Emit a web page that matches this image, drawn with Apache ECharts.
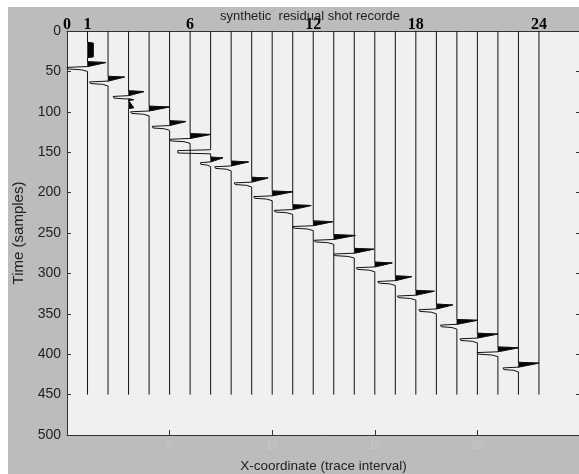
<!DOCTYPE html>
<html>
<head>
<meta charset="utf-8">
<script src="https://cdn.jsdelivr.net/npm/echarts@6/dist/echarts.min.js"></script>
<style>
  html, body { margin: 0; padding: 0; background: #ffffff; }
  #chart { position: absolute; left: 8px; top: 7px; width: 571px; height: 467px; }
</style>
</head>
<body>
<div id="chart"></div>
<script>
// Trace numbers along the receiver line
const traceNo = [1, 2, 3, 4, 5, 6, 7, 8, 9, 10, 11, 12, 13, 14, 15, 16, 17, 18, 19, 20, 21, 22, 23];
// Arrival time (samples) of the reflection event on each trace; null = no event on record
const pickTime = [38, 56, 74, 93, 111, 127, 156, 161, 181, 198, 215, 235, 252, 269, 286, 303, 321, 338, 357, 374, 391, 410, null];
// Peak (positive, filled) and trough (negative) amplitude, in trace spacings
const peakAmp = [0.9, 0.8, 0.75, 1.0, 0.8, 1.0, 0.6, 0.85, 0.8, 1.0, 0.9, 0.95, 1.05, 0.95, 0.85, 0.8, 0.9, 0.8, 1.0, 1.0, 1.0, 1.0, 0];
const troughAmp = [1.0, 0.9, 0.75, 0.9, 0.85, 1.0, 0.5, 0.8, 0.85, 0.9, 0.9, 1.0, 0.95, 1.0, 0.9, 0.85, 0.9, 0.85, 0.8, 0.85, 1.0, 0.75, 0];
// Normalised wavelet: lag (samples after arrival) and amplitude
const waveLag = [0, 1, 6, 7, 9, 10, 12];
const waveShape = [0, 1, 0, -1, -0.95, -0.3, 0];
// Residual energy left on a few traces: trace, start/end sample, amplitude
const residTrace = [1, 3, 7];
const residFrom = [15, 85, 148];
const residTo = [32, 95, 151];
const residAmp = [0.28, 0.25, -1.6];
// Record length (samples)
const recordEnd = 450;
// Time axis and trace axis ticks
const timeTicks = [0, 50, 100, 150, 200, 250, 300, 350, 400, 450, 500];
const bottomTicks = [5, 10, 15, 20];
// Trace annotations above the record
const topLabelAt = [0, 1, 6, 12, 17, 23];
const topLabelText = ['0', '1', '6', '12', '18', '24'];

function traceSamples(i) {
  const ev = [];
  if (pickTime[i] !== null) {
    for (let k = 0; k < waveLag.length; k++) {
      const s = waveShape[k];
      const a = s > 0 ? s * peakAmp[i] : s * troughAmp[i];
      ev.push([pickTime[i] + waveLag[k], a]);
    }
  }
  for (let r = 0; r < residTrace.length; r++) {
    if (residTrace[r] === traceNo[i]) {
      ev.push([residFrom[r] - 1, 0], [residFrom[r], residAmp[r]],
              [residTo[r], residAmp[r]], [residTo[r] + 1, 0]);
    }
  }
  ev.sort((p, q) => p[0] - q[0]);
  return [[0, 0]].concat(ev, [[recordEnd, 0]]);
}

const chart = echarts.init(document.getElementById('chart'), null, { renderer: 'canvas' });

const sans = 'Liberation Sans, Arial, sans-serif';

chart.setOption({
  backgroundColor: '#bcbcbc',
  animation: false,
  title: {
    text: 'synthetic  residual shot recorde',
    left: 297,
    top: -2,
    textAlign: 'center',
    textStyle: { fontFamily: sans, fontSize: 13, fontWeight: 'normal', color: '#222' }
  },
  grid: {
    left: 59, top: 24, right: -1, bottom: 39,
    outerBoundsMode: 'none',
    containLabel: false,
    show: true, backgroundColor: '#f0f0f0', borderWidth: 0
  },
  xAxis: [
    {
      type: 'value', position: 'bottom', min: 0, max: 25,
      axisLine: { show: true, onZero: false, lineStyle: { color: '#333', width: 1 } },
      axisTick: { show: true, inside: true, length: 5, customValues: bottomTicks, lineStyle: { color: '#333' } },
      axisLabel: { show: true, customValues: bottomTicks, margin: 6, color: '#c9c9c9', fontSize: 10, fontFamily: sans },
      splitLine: { show: false },
      name: 'X-coordinate (trace interval)',
      nameLocation: 'middle', nameGap: 24,
      nameTextStyle: { fontFamily: sans, fontSize: 13.5, color: '#222' }
    },
    {
      type: 'value', position: 'top', min: 0, max: 25,
      axisLine: { show: true, onZero: false, lineStyle: { color: '#333', width: 1 } },
      axisTick: { show: false },
      axisLabel: {
        show: true, customValues: topLabelAt, margin: -2,
        formatter: v => topLabelText[topLabelAt.indexOf(v)],
        fontFamily: 'Liberation Serif, Times New Roman, serif', fontWeight: 'bold', fontSize: 16, color: '#000'
      },
      splitLine: { show: false }
    }
  ],
  yAxis: [
    {
      type: 'value', inverse: true, min: 0, max: 500, interval: 50,
      axisLine: { show: true, onZero: false, lineStyle: { color: '#333', width: 1 } },
      axisTick: { show: true, inside: true, length: 4, customValues: timeTicks, lineStyle: { color: '#333' } },
      axisLabel: { show: true, margin: 6, color: '#222', fontSize: 14, fontFamily: sans },
      splitLine: { show: false },
      name: 'Time (samples)', nameLocation: 'middle', nameGap: 33,
      nameTextStyle: { fontFamily: sans, fontSize: 15, color: '#222' }
    },
    {
      type: 'value', inverse: true, min: 0, max: 500, interval: 50, position: 'right',
      axisLine: { show: true, onZero: false, lineStyle: { color: '#333', width: 1 } },
      axisTick: { show: true, inside: true, length: 4, lineStyle: { color: '#333' } },
      axisLabel: { show: false },
      splitLine: { show: false }
    }
  ],
  series: [{
    type: 'custom',
    xAxisIndex: 0, yAxisIndex: 0,
    data: traceNo.map(n => [n, 0]),
    encode: { x: 0, y: 1 },
    renderItem: function (params, api) {
      const i = params.dataIndex;
      const n = traceNo[i];
      const s = traceSamples(i);
      const line = s.map(p => api.coord([n + p[1], p[0]]));
      const children = [];
      // variable-area fill of positive lobes
      for (let k = 1; k < s.length - 1; k++) {
        if (s[k][1] > 0 && s[k - 1][1] <= 0) {
          const poly = [api.coord([n, s[k - 1][0]])];
          let m = k;
          while (m < s.length && s[m][1] > 0) { poly.push(line[m]); m++; }
          poly.push(api.coord([n, s[m][0]]));
          children.push({ type: 'polygon', shape: { points: poly }, style: { fill: '#000', stroke: '#000', lineWidth: 0.5 } });
        }
      }
      children.push({ type: 'polyline', shape: { points: line }, style: { fill: null, stroke: '#111', lineWidth: 1 } });
      return { type: 'group', children: children };
    }
  }]
});
</script>
</body>
</html>
